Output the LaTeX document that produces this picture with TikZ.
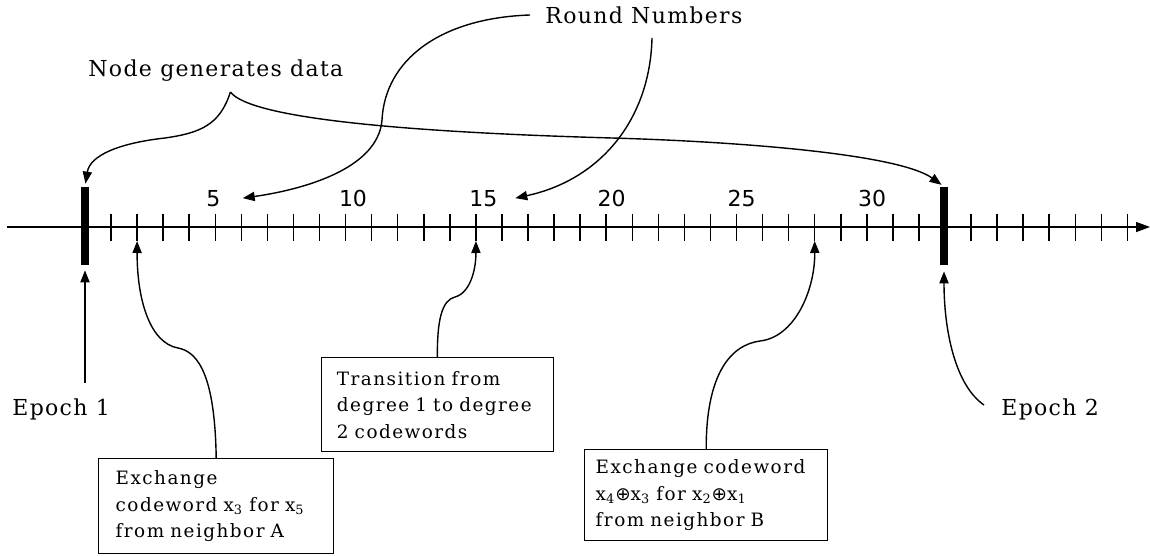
\documentclass[tikz,border=0pt]{standalone}
\usepackage{fontspec}
\setmainfont{DejaVu Serif}
\newfontfamily\labfont[LetterSpace=6]{DejaVu Serif}
\newfontfamily\boxfont[LetterSpace=8]{DejaVu Serif}
\newfontfamily\numfont{DejaVu Sans}
\newfontfamily\opfont{DejaVu Sans}
\usetikzlibrary{arrows.meta}
\begin{document}
\begin{tikzpicture}[x=0.5pt,y=-0.5pt,
  conn/.style={line width=0.7pt,-{Triangle[length=6pt,width=4.6pt]}},
  lab/.style={font=\labfont\fontsize{11}{13}\selectfont, inner sep=0pt, anchor=base west},
  num/.style={font=\numfont\fontsize{11}{13}\selectfont, inner sep=0pt, anchor=base},
  infobox/.style={draw, line width=0.7pt, font=\boxfont\fontsize{9.2}{13.25}\selectfont, align=left, anchor=north west, inner ysep=0pt},
  epochbar/.style={fill=black, inner sep=0pt, minimum width=4pt, minimum height=39pt},
  ticksty/.style={line width=0.75pt}
]
\useasboundingbox (0,0) rectangle (1150,556);
\fill[white] (0,0) rectangle (1150,556);

% axis
\coordinate (axL) at (7,227);
\coordinate (axR) at (1150,227);
\draw[line width=0.75pt,-{Triangle[length=7pt,width=5pt]}] (axL) -- (axR);
\foreach \i in {1,...,32,34,35,...,40}
  \draw[ticksty] ({85+\i*26.06},213.5) -- ({85+\i*26.06},240.5);
\coordinate (tb2) at ({85+2*26.06},241);
\coordinate (tb15) at ({85+15*26.06},241);
\coordinate (tb28) at ({85+28*26.06},241);

% epoch bars
\node[epochbar] (e1) at (85,226) {};
\node[epochbar] (e2) at (944,226) {};

% round numbers
\node[num] (n5) at (213.3,206) {5};
\node[num] (n10) at (353,206) {10};
\node[num] (n15) at (483.3,206) {15};
\node[num] (n20) at (611.7,206) {20};
\node[num] (n25) at (741.7,206) {25};
\node[num] (n30) at (872,206) {30};

% labels
\node[lab] (ngd) at (88,77) {Node generates data};
\node[lab] (rn) at (545,24) {Round Numbers};
\node[lab] (ep1) at (12,415) {Epoch 1};
\node[lab] (ep2) at (1001,415) {Epoch 2};

% boxes
\node[infobox, text width=100.5pt, inner xsep=8.5pt, minimum height=47.5pt] (bx1) at (98,458)
  {\mbox{Exchange}\\\mbox{codeword x\textsubscript{3} for x\textsubscript{5}}\\\mbox{from neighbor A}};
\node[infobox, text width=100.5pt, inner xsep=7.75pt, minimum height=47pt] (bx3) at (320.7,357)
  {\mbox{Transition from}\\\mbox{degree 1 to degree}\\\mbox{2 codewords}};
\node[infobox, text width=110.5pt, inner xsep=5.5pt, minimum height=45.5pt] (bx2) at (584,449)
  {\mbox{Exchange codeword}\\\mbox{x\textsubscript{4}{\opfont ⊕}x\textsubscript{3} for x\textsubscript{2}{\opfont ⊕}x\textsubscript{1}}\\\mbox{from neighbor B}};

% node generates data
\coordinate (ngdj) at (230.4,92);
\draw[conn, shorten >=1.5pt] (ngdj) .. controls (220,125) and (200,133) .. (165,138)
   .. controls (120,143) and (90,155) .. (e1.north);
\draw[conn, shorten >=1.5pt] (ngdj) .. controls (250,118) and (400,132) .. (612,138)
   .. controls (750,142) and (900,155) .. (e2.north);

% round numbers pointers
\coordinate (rnA) at (530,15);
\coordinate (rnB) at (652,38);
\coordinate (p5) at ([xshift=11pt]n5.east);
\coordinate (p15) at ([xshift=8.8pt]n15.east);
\draw[conn] (rnA) .. controls (440,18) and (385,60) .. (382,120)
   .. controls (378,170) and (300,190) .. (p5);
\draw[conn] (rnB) .. controls (650,120) and (600,180) .. (p15);

% epochs
\draw[conn, shorten >=2.5pt, shorten <=7.5pt] (ep1.north -| e1) -- (e1.south);
\coordinate (ep2s) at (984,405);
\draw[conn, shorten >=3pt] (ep2s) .. controls (955,385) and (944,330) .. (e2.south);

% box connectors
\draw[conn] (bx1.north) .. controls (215,380) and (200,352) .. (178,348)
   .. controls (150,343) and (137,300) .. (tb2);
\draw[conn] (bx3.north) .. controls (437,320) and (442,300) .. (455,297)
   .. controls (470,293) and (476,270) .. (tb15);
\draw[conn] (bx2.north) .. controls (706,375) and (730,345) .. (760,341)
   .. controls (795,337) and (815,290) .. (tb28);
\end{tikzpicture}
\end{document}
